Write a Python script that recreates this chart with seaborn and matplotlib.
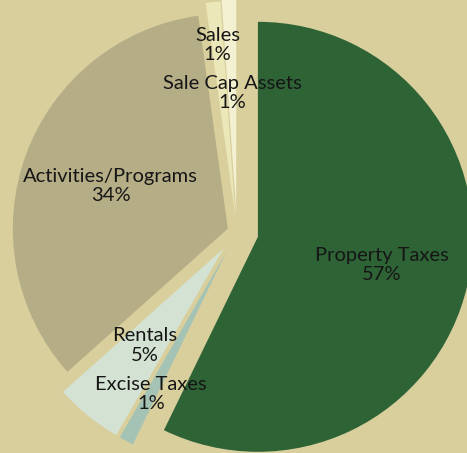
import matplotlib
matplotlib.use("Agg")
import numpy as np
import matplotlib.pyplot as plt
import seaborn as sns

# Revenue sources (percent of total), in clockwise order from 12 o'clock
categories = ["Property Taxes", "Excise Taxes", "Rentals",
              "Activities/Programs", "Sales", "Sale Cap Assets"]
shares = [57.2, 1.1, 5.1, 34.4, 1.1, 1.1]

# Styling per slice
slice_colors = ["#2e6336", "#a5c3b5", "#d3e2d3", "#b4ad86", "#ece7b9", "#f4f1d2"]
explode = [0.10, 0.10, 0.10, 0.045, 0.075, 0.095]
label_dist = [0.59, 0.755, 0.58, 0.58, 0.80, 0.55]

bg = "#d8cf9d"
sns.set_theme(style="white")
plt.rcParams["font.family"] = ["Lato", "DejaVu Sans"]

fig = plt.figure(figsize=(4.67, 4.53), dpi=100, facecolor=bg)
ax = fig.add_axes([0, 0, 1, 1])
ax.set_facecolor(bg)

wedges, _ = ax.pie(shares, colors=slice_colors, explode=explode,
                   startangle=90, counterclock=False, radius=1.0,
                   wedgeprops=dict(linewidth=0))

# Label each slice with its name and rounded share, along the slice bisector
for w, name, val, d in zip(wedges, categories, shares, label_dist):
    mid = np.deg2rad((w.theta1 + w.theta2) / 2)
    cx, cy = w.center
    x = cx + d * w.r * np.cos(mid)
    y = cy + d * w.r * np.sin(mid)
    ax.text(x, y, f"{name}\n{val:.0f}%", ha="center", va="center",
            fontsize=14.5, color="#161616", linespacing=1.15)

ax.set_xlim(-1.102, 1.070)
ax.set_ylim(-1.028, 1.079)
ax.set_aspect("auto")
ax.axis("off")

fig.savefig("out.png", dpi=100, facecolor=bg)
